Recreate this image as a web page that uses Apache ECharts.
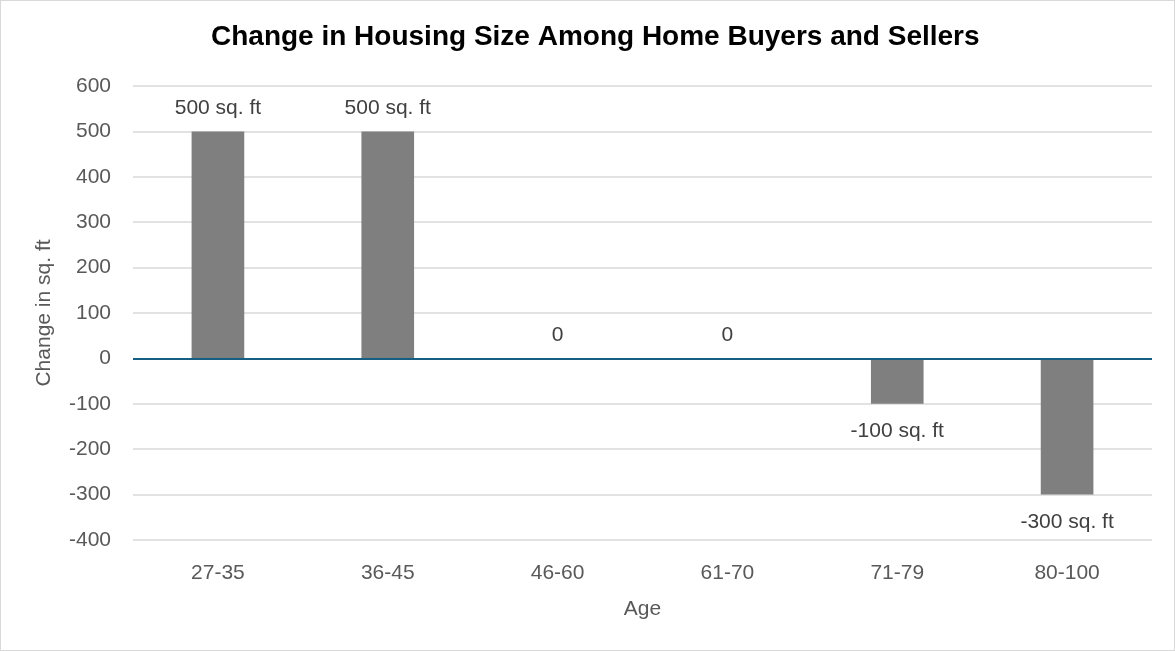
<!DOCTYPE html>
<html>
<head>
<meta charset="utf-8">
<script src="https://cdn.jsdelivr.net/npm/echarts@6/dist/echarts.min.js"></script>
<style>
	html, body { margin: 0; padding: 0; background: #fff; }
	#chart { width: 1173px; height: 649px; border: 1px solid #d9d9d9; }
</style>
</head>
<body>
<div id="chart"></div>
<script>
// data
var ageGroups = ['27-35', '36-45', '46-60', '61-70', '71-79', '80-100'];
var sizeChange = [500, 500, 0, 0, -100, -300];

var fontName = 'Liberation Sans';
var chart = echarts.init(document.getElementById('chart'));

// negative bars get their label under the bar
var barData = [];
for (var i = 0; i < sizeChange.length; i++) {
	var neg = sizeChange[i] < 0;
	barData.push({
		value: sizeChange[i],
		label: { position: neg ? 'bottom' : 'top', distance: neg ? 17 : 13 }
	});
}

var option = {
	animation: false,
	textStyle: { fontFamily: fontName },
	title: {
		text: 'Change in Housing Size Among Home Buyers and Sellers',
		left: 205,
		top: 17,
		textStyle: { fontSize: 28, fontWeight: 'bold', color: '#000', fontFamily: fontName }
	},
	grid: { left: 132, right: 22, top: 85, bottom: 110 },
	xAxis: {
		type: 'category',
		data: ageGroups,
		name: 'Age',
		nameLocation: 'middle',
		nameGap: 59,
		nameTextStyle: { fontSize: 21, color: '#595959' },
		axisLine: { show: false, onZero: false },
		axisTick: { show: false },
		axisLabel: { fontSize: 21, color: '#595959', margin: 23 }
	},
	yAxis: {
		type: 'value',
		min: -400,
		max: 600,
		interval: 100,
		name: 'Change in sq. ft',
		nameLocation: 'middle',
		nameGap: 78,
		nameTextStyle: { fontSize: 21, color: '#595959' },
		axisLine: { show: false },
		axisTick: { show: false },
		axisLabel: { fontSize: 21, color: '#595959', margin: 22 },
		splitLine: { lineStyle: { color: '#d9d9d9', width: 1.5 } }
	},
	series: [{
		type: 'bar',
		data: barData,
		barWidth: '31%',
		itemStyle: { color: '#7f7f7f' },
		label: {
			show: true,
			fontSize: 21,
			color: '#404040',
			formatter: function (p) {
				return p.value === 0 ? '0' : p.value + ' sq. ft';
			}
		},
		markLine: {
			silent: true,
			symbol: 'none',
			label: { show: false },
			lineStyle: { color: '#156082', width: 2, type: 'solid' },
			data: [{ yAxis: 0 }]
		}
	}]
};
chart.setOption(option);
</script>
</body>
</html>
